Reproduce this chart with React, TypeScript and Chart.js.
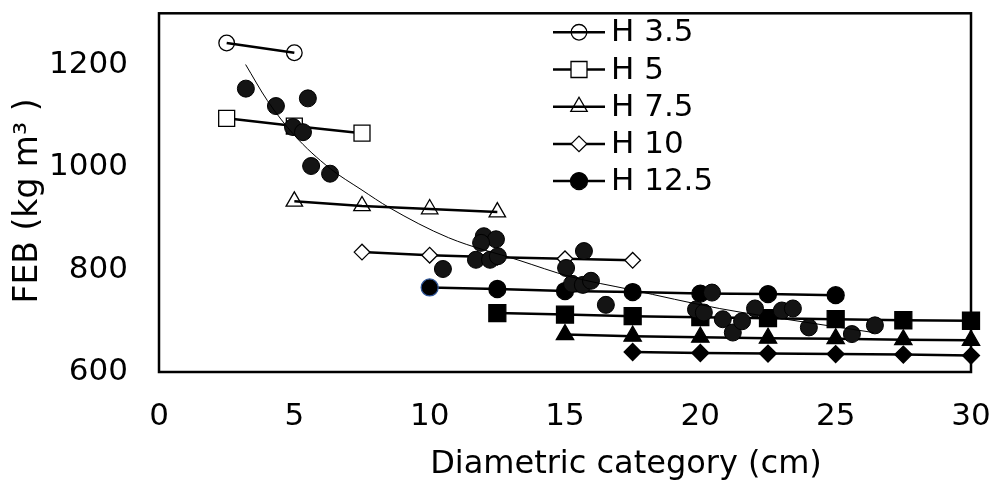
import React, { useEffect, useRef } from 'react';
import { Chart, registerables } from 'chart.js';
import { drawPoint } from 'chart.js/helpers';

Chart.register(...registerables);

const FONT = "'DejaVu Sans', Verdana, sans-serif";

// ---- data ----
const h35X = [2.5, 5];
const h35Y = [1242, 1223];

const h5X = [2.5, 5, 7.5];
const h5Y = [1095, 1080, 1066];

const h75X = [5, 7.5, 10, 12.5];
const h75Y = [933, 924, 918, 912];

const h10X = [7.5, 10, 12.5, 15, 17.5];
const h10Y = [834, 828, 824, 821, 818];

const h125X = [10, 12.5, 15, 17.5, 20, 22.5, 25];
const h125Y = [765, 762, 758, 756, 753, 752, 750];

const h15X = [12.5, 15, 17.5, 20, 22.5, 25, 27.5, 30];
const h15Y = [715, 712, 709, 707, 705, 703, 701, 700];

const h175X = [15, 17.5, 20, 22.5, 25, 27.5, 30];
const h175Y = [673, 670, 668, 666, 665, 663, 662];

const h20X = [17.5, 20, 22.5, 25, 27.5, 30];
const h20Y = [639, 637, 636, 635, 634, 632];

const obsX = [3.21, 4.32, 5.5, 4.95, 5.32, 5.62, 6.32, 12.0, 12.45, 11.9, 11.71, 12.23, 12.52, 10.49,
  15.7, 15.04, 15.26, 15.66, 15.96, 16.51, 20.43, 19.84, 20.13, 20.83, 21.2, 21.54, 22.02, 23.01,
  23.42, 24.01, 25.6, 26.45];
const obsY = [1153, 1119, 1134, 1078, 1068, 1002, 987, 865, 859, 852, 819, 819, 826, 801,
  836, 803, 772, 770, 778, 731, 755, 722, 716, 703, 677, 699, 724, 720,
  724, 687, 674, 691];

const trendX = [3.2, 4.0, 5.0, 6.3, 7.5, 8.5, 10.7, 13.3, 15.2, 17.4, 20.7, 23.9, 26.4];
const trendY = [1200, 1130, 1062, 998, 955, 921, 862, 818, 786, 761, 724, 697, 677];

const xTicks = [0, 5, 10, 15, 20, 25, 30];
const yTicks = [600, 800, 1000, 1200];
const legendNames = ['H 3.5', 'H 5', 'H 7.5', 'H 10', 'H 12.5'];
const xTitle = 'Diametric category (cm)';
const yTitle = 'FEB (kg m³ )';

const CLEAR = 'rgba(0,0,0,0)';

const pts = (xs: number[], ys: number[]) => xs.map((x, i) => ({ x, y: ys[i] }));

const lineSeries = (label: string, xs: number[], ys: number[], style: string, radius: number, fill: string, order: number, extra: any = {}) => ({
  label,
  data: pts(xs, ys),
  showLine: true,
  borderColor: '#000',
  borderWidth: 2.5,
  pointStyle: style,
  pointRadius: radius,
  pointBackgroundColor: fill,
  pointBorderColor: '#000',
  pointBorderWidth: 1.3,
  clip: false,
  order,
  ...extra,
});

const framePlugin = {
  id: 'frame',
  beforeDatasetsDraw(chart: any) {
    const { ctx, chartArea: a } = chart;
    ctx.save();
    ctx.strokeStyle = '#000';
    ctx.lineWidth = 2.5;
    ctx.strokeRect(a.left, a.top, a.right - a.left, a.bottom - a.top);
    ctx.restore();
  },
};

const titlePlugin = {
  id: 'axisTitles',
  afterDraw(chart: any) {
    const { ctx, chartArea: a } = chart;
    ctx.save();
    ctx.fillStyle = '#000';
    ctx.textAlign = 'center';
    ctx.textBaseline = 'middle';
    ctx.font = `32px ${FONT}`;
    ctx.fillText(xTitle, (a.left + a.right) / 2 + 61, 465);
    ctx.translate(28, 201);
    ctx.rotate(-Math.PI / 2);
    ctx.font = `33px ${FONT}`;
    ctx.fillText(yTitle, 0, 0);
    ctx.restore();
  },
};

const legendPlugin = {
  id: 'customLegend',
  afterDraw(chart: any) {
    const { ctx, chartArea: a } = chart;
    const x0 = a.right - 418;
    const y0 = a.top + 19;
    const step = 37.2;
    ctx.save();
    legendNames.forEach((name, i) => {
      const ds = chart.data.datasets.find((d: any) => d.label === name);
      if (!ds) return;
      const y = y0 + i * step;
      ctx.strokeStyle = '#000';
      ctx.lineWidth = 2.5;
      ctx.beginPath();
      ctx.moveTo(x0, y);
      ctx.lineTo(x0 + 52, y);
      ctx.stroke();
      ctx.fillStyle = ds.pointBackgroundColor;
      ctx.strokeStyle = '#000';
      ctx.lineWidth = 1.3;
      drawPoint(ctx, { pointStyle: ds.pointStyle, radius: ds.pointRadius, rotation: 0, borderWidth: 1.3 }, x0 + 26, y);
      ctx.fillStyle = '#000';
      ctx.font = `31px ${FONT}`;
      ctx.textBaseline = 'middle';
      ctx.textAlign = 'left';
      ctx.fillText(name, x0 + 58, y + 1);
    });
    ctx.restore();
  },
};

export default function App() {
  const ref = useRef<HTMLCanvasElement>(null);
  useEffect(() => {
    if (!ref.current) return;
    const datasets: any[] = [
      {
        label: 'Trend',
        data: pts(trendX, trendY),
        showLine: true,
        borderColor: '#000',
        borderWidth: 1,
        pointRadius: 0,
        cubicInterpolationMode: 'monotone',
        clip: false,
        order: 0,
      },
      lineSeries('H 3.5', h35X, h35Y, 'circle', 7.8, CLEAR, 2),
      lineSeries('H 5', h5X, h5Y, 'rect', 11.3, '#fff', 5),
      lineSeries('H 7.5', h75X, h75Y, 'triangle', 9.5, CLEAR, 4),
      lineSeries('H 10', h10X, h10Y, 'rectRot', 7.8, '#fff', 4),
      lineSeries('H 12.5', h125X, h125Y, 'circle', 8.5, '#000', 3, {
        pointBorderColor: h125X.map((_, i) => (i === 0 ? '#2f5597' : '#000')),
      }),
      lineSeries('H 15', h15X, h15Y, 'rect', 12, '#000', 3),
      lineSeries('H 17.5', h175X, h175Y, 'triangle', 10, '#000', 3),
      lineSeries('H 20', h20X, h20Y, 'rectRot', 8.5, '#000', 3),
      {
        label: 'Observed',
        data: pts(obsX, obsY),
        showLine: false,
        pointStyle: 'circle',
        pointRadius: 8.5,
        pointBackgroundColor: '#141414',
        pointBorderColor: '#000',
        pointBorderWidth: 1,
        clip: false,
        order: 1,
      },
    ];
    const chart = new Chart(ref.current, {
      type: 'scatter',
      data: { datasets },
      plugins: [framePlugin, legendPlugin, titlePlugin],
      options: {
        animation: false,
        responsive: true,
        maintainAspectRatio: false,
        layout: { padding: { top: 9, right: 24, left: 0, bottom: 0 } },
        plugins: {
          legend: { display: false },
          tooltip: { enabled: false },
        },
        scales: {
          x: {
            type: 'linear',
            min: 0,
            max: 30,
            afterFit: (s: any) => {
              s.height = 110;
              s.paddingLeft = 0;
              s.paddingRight = 0;
              s.paddingTop = 0;
              s.paddingBottom = 0;
            },
            afterBuildTicks: (s: any) => { s.ticks = xTicks.map((v) => ({ value: v })); },
            grid: { display: false, drawTicks: false },
            border: { display: false },
            ticks: {
              color: '#000',
              font: { family: FONT, size: 31 },
              padding: 26,
              callback: (v: any) => String(v),
            },
            title: { display: false },
          },
          y: {
            type: 'linear',
            min: 600,
            max: 1300,
            afterFit: (s: any) => {
              s.width = 159;
              s.paddingLeft = 0;
              s.paddingRight = 0;
              s.paddingTop = 0;
              s.paddingBottom = 0;
            },
            afterBuildTicks: (s: any) => { s.ticks = yTicks.map((v) => ({ value: v })); },
            grid: { display: false, drawTicks: false },
            border: { display: false },
            ticks: {
              color: '#000',
              font: { family: FONT, size: 31 },
              padding: 31,
              callback: (v: any) => String(v),
            },
            title: { display: false },
          },
        },
      },
    });
    return () => chart.destroy();
  }, []);
  return (
    <div style={{ position: 'fixed', left: 0, top: 0, width: 995, height: 482, background: '#fff' }}>
      <canvas ref={ref} />
    </div>
  );
}
